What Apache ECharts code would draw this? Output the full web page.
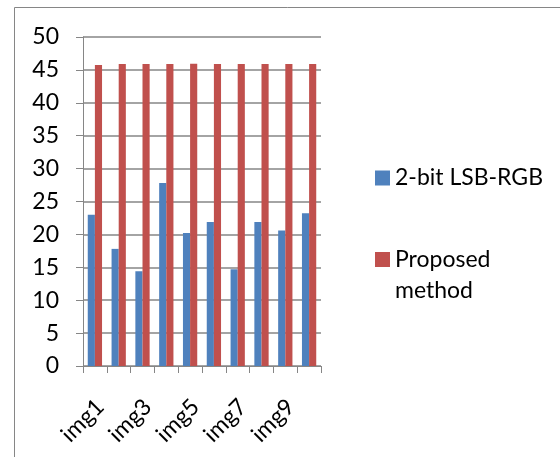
<!DOCTYPE html>
<html><head><meta charset="utf-8">
<script src="https://cdn.jsdelivr.net/npm/echarts@6/dist/echarts.min.js"></script>
<style>html,body{margin:0;padding:0;background:#fff}#c{width:560px;height:457px}</style>
</head><body><div id="c"></div>
<script>
const categories = ['img1','img2','img3','img4','img5','img6','img7','img8','img9','img10'];
const lsbRGB = [23.0, 17.8, 14.4, 27.8, 20.2, 21.9, 14.7, 21.9, 20.6, 23.2];
const proposed = [45.75, 45.9, 45.9, 45.9, 45.95, 45.9, 45.9, 45.9, 45.9, 45.9];
const seriesNames = ['2-bit LSB-RGB', 'Proposed method'];
const FONT = 'Lato';
const chart = echarts.init(document.getElementById('c'), null, {renderer:'canvas'});
chart.setOption({
  animation:false,
  textStyle:{fontFamily:FONT},
  graphic:[{type:'rect', shape:{x:14.5,y:7.5,width:700,height:600}, style:{fill:'none', stroke:'#868686', lineWidth:1}, silent:true}],
  grid:{left:83, right:239, top:37, bottom:91},
  legend:[{
    data:[seriesNames[0]], left:370, top:159, orient:'vertical',
    itemWidth:15, itemHeight:15, icon:'rect',
    textStyle:{fontFamily:FONT, fontSize:23, color:'#000', lineHeight:28}
  },{
    data:[seriesNames[1]], left:370, top:208, orient:'vertical',
    itemWidth:15, itemHeight:15, icon:'rect',
    formatter:function(){return '\u00a0\nProposed\nmethod';},
    textStyle:{fontFamily:FONT, fontSize:23, color:'#000', lineHeight:31}
  }],
  xAxis:{
    type:'category', data:categories, boundaryGap:true,
    axisLine:{lineStyle:{color:'#868686', width:1}},
    axisTick:{show:true, length:7, alignWithLabel:false, interval:0, lineStyle:{color:'#868686'}},
    axisLabel:{interval:1, rotate:45, fontFamily:FONT, fontSize:23, color:'#000', margin:26, verticalAlign:'top', padding:[0,4,0,0]}
  },
  yAxis:{
    type:'value', min:0, max:50, interval:5,
    axisLine:{show:true, lineStyle:{color:'#868686', width:1}},
    axisTick:{show:true, length:7, lineStyle:{color:'#868686'}},
    splitLine:{lineStyle:{color:'#868686', width:1.5}},
    axisLabel:{fontFamily:FONT, fontSize:23, color:'#000', margin:24}
  },
  series:[
    {name:seriesNames[0], type:'bar', data:lsbRGB, itemStyle:{color:'#4F81BD'}, barGap:'0%', barCategoryGap:'40%'},
    {name:seriesNames[1], type:'bar', data:proposed, itemStyle:{color:'#C0504D'}, barGap:'0%', barCategoryGap:'40%'}
  ]
});
</script></body></html>
